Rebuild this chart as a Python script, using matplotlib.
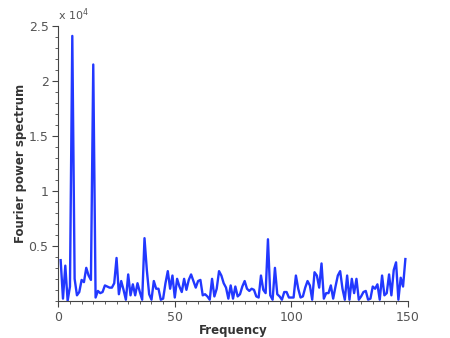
import matplotlib
matplotlib.use('Agg')
import matplotlib.pyplot as plt
import numpy as np

# frequency bins and power (in units of 1e4)
freq = np.arange(1, 150)
power = [0.37, 0.02, 0.32, 0.00, 0.13, 2.41, 0.20, 0.05, 0.08, 0.19,
         0.17, 0.30, 0.23, 0.19, 2.15, 0.03, 0.09, 0.07, 0.08, 0.14,
         0.13, 0.12, 0.12, 0.16, 0.39, 0.06, 0.18, 0.10, 0.01, 0.24,
         0.05, 0.15, 0.05, 0.16, 0.08, 0.01, 0.57, 0.28, 0.06, 0.01,
         0.18, 0.11, 0.11, 0.01, 0.02, 0.16, 0.27, 0.11, 0.23, 0.03,
         0.20, 0.13, 0.08, 0.20, 0.10, 0.19, 0.24, 0.18, 0.12, 0.18,
         0.19, 0.05, 0.06, 0.04, 0.01, 0.20, 0.04, 0.11, 0.27, 0.23,
         0.16, 0.12, 0.02, 0.14, 0.02, 0.13, 0.04, 0.06, 0.13, 0.18,
         0.11, 0.09, 0.11, 0.10, 0.04, 0.03, 0.23, 0.10, 0.07, 0.56,
         0.05, 0.01, 0.30, 0.06, 0.04, 0.01, 0.08, 0.08, 0.03, 0.03,
         0.03, 0.23, 0.11, 0.03, 0.04, 0.12, 0.18, 0.14, 0.01, 0.26,
         0.23, 0.12, 0.34, 0.02, 0.07, 0.07, 0.14, 0.02, 0.13, 0.23,
         0.27, 0.11, 0.01, 0.23, 0.01, 0.20, 0.07, 0.20, 0.01, 0.04,
         0.08, 0.09, 0.01, 0.02, 0.13, 0.11, 0.15, 0.01, 0.23, 0.05,
         0.07, 0.24, 0.05, 0.28, 0.35, 0.01, 0.21, 0.13, 0.38]
power = np.array(power) * 1e4

yticks = [0.5, 1, 1.5, 2, 2.5]

fig = plt.figure(figsize=(4.5, 3.38), dpi=100)
ax = fig.add_axes([0.1296, 0.110, 0.7764, 0.813])

ax.plot(freq, power, color='#2238ff', linewidth=1.7)

ax.set_xlim(0, 150)
ax.set_ylim(0, 2.5e4)
ax.set_xticks([0, 50, 100, 150])
ax.set_xticks(np.arange(0, 151, 5), minor=True)
ax.set_yticks([v * 1e4 for v in yticks])
ax.set_yticklabels([('%g' % v) for v in yticks])
ax.set_yticks(np.arange(0, 25001, 1000), minor=True)

for s in ['top', 'right']:
    ax.spines[s].set_visible(False)
for s in ['left', 'bottom']:
    ax.spines[s].set_color('#444444')
    ax.spines[s].set_linewidth(0.8)

ax.tick_params(which='both', direction='out', colors='#444444', labelcolor='#555555', labelsize=9)
ax.tick_params(which='major', length=4, pad=3)
ax.tick_params(which='minor', length=2.5)

ax.set_xlabel('Frequency', fontsize=8.5, fontweight='bold', color='#333333', labelpad=0)
ax.set_ylabel('Fourier power spectrum', fontsize=8.5, fontweight='bold', color='#333333', labelpad=1)

ax.text(0.0, 1.01, r'x 10$^4$', transform=ax.transAxes, fontsize=8, color='#555555',
        ha='left', va='bottom')

fig.savefig('out.png', dpi=100)
